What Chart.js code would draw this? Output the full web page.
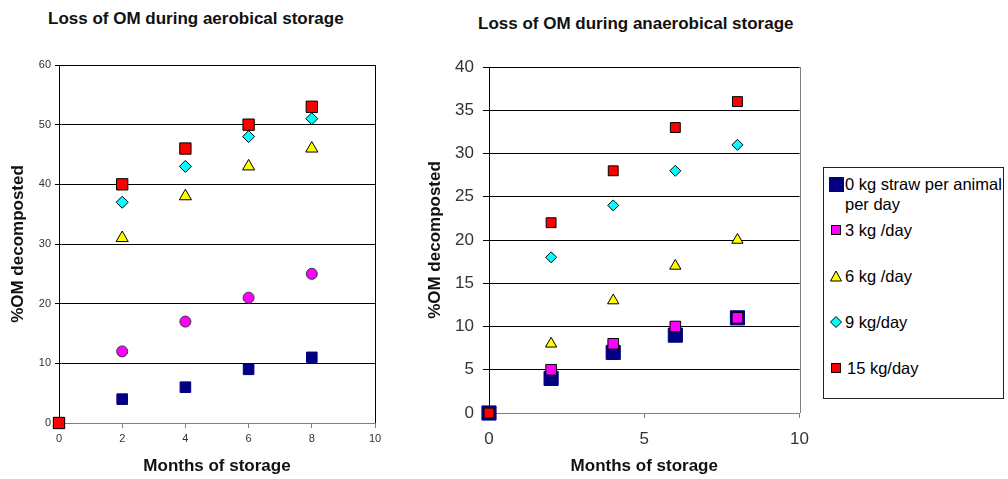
<!DOCTYPE html>
<html>
<head>
<meta charset="utf-8">
<script src="https://cdn.jsdelivr.net/npm/chart.js@4/dist/chart.umd.min.js"></script>
<style>
  html, body { margin:0; padding:0; background:#fff; }
  body { width:1008px; height:479px; position:relative; overflow:hidden; font-family:"Liberation Sans", Arial, sans-serif; }
  .title { position:absolute; font-weight:bold; font-size:17px; color:#111; white-space:nowrap; }
  .wrap { position:absolute; top:0; height:479px; width:400px; }
  #legend { position:absolute; left:823px; top:167px; width:179px; height:230px; border:1px solid #222; font-size:16.5px; color:#000; }
  .item { position:absolute; left:0; white-space:nowrap; line-height:20px; }
  .item svg { position:absolute; }
  .item span { position:absolute; left:21px; }
</style>
</head>
<body>
<div class="title" style="left:48px; top:9px;">Loss of OM during aerobical storage</div>
<div class="title" style="left:478px; top:14px;">Loss of OM during anaerobical storage</div>
<div class="wrap" style="left:0"><canvas id="aerobic"></canvas></div>
<div class="wrap" style="left:420px"><canvas id="anaerobic"></canvas></div>
<div id="legend"></div>
<script>
// months of storage
const months = [0, 2, 4, 6, 8];

// aerobic storage, % OM decomposted
const aer0  = [0, 4, 6, 9, 11];
const aer3  = [null, 12, 17, 21, 25];
const aer6  = [null, 31, 38, 43, 46];
const aer9  = [null, 37, 43, 48, 51];
const aer15 = [0, 40, 46, 50, 53];

// anaerobic storage
const ana0  = [0, 4, 7, 9, 11];
const ana3  = [null, 5, 8, 10, 11];
const ana6  = [null, 8, 13, 17, 20];
const ana9  = [null, 18, 24, 28, 31];
const ana15 = [0, 22, 28, 33, 36];

const seriesNames = ['0 kg straw per animal per day', '3 kg /day', '6 kg /day', '9 kg/day', '15 kg/day'];

const FONT = '"Liberation Sans", Arial, sans-serif';

function pts(ys){ return months.map((m,i) => ({x:m, y:ys[i]})).filter(p => p.y !== null); }

function ds(label, ys, style, fill, r, order, border){
  return {
    label, data: pts(ys), pointStyle: style, pointRadius: r, pointHoverRadius: r,
    backgroundColor: fill, borderColor: border || '#000', pointBorderWidth: 1, borderWidth: 1,
    showLine: false, order, clip: false
  };
}

// right edge of the plot area
const frame = {
  id: 'frame',
  beforeDatasetsDraw(chart, args, opts){
    const a = chart.chartArea, c = chart.ctx;
    c.save();
    c.strokeStyle = opts.color || '#000';
    c.lineWidth = 1;
    c.beginPath();
    c.moveTo(Math.round(a.right)+0.5, a.top);
    c.lineTo(Math.round(a.right)+0.5, a.bottom);
    c.stroke();
    c.restore();
  }
};

function makeChart(id, datasets, o){
  return new Chart(document.getElementById(id), {
    type: 'scatter',
    data: { datasets },
    plugins: [frame],
    options: {
      responsive: true, maintainAspectRatio: false, animation: false,
      layout: { padding: { top: o.top, right: o.right, left: 0, bottom: 0 } },
      plugins: { legend: { display:false }, tooltip: { enabled:false }, frame: { color: o.frameColor } },
      scales: {
        x: {
          type: 'linear', min: 0, max: 10,
          ticks: { stepSize: o.xStep, color: '#333', padding: o.xPad, font: { family: FONT, size: o.tickSize } },
          grid: { drawOnChartArea: false, drawTicks: true, tickLength: 5, color: '#808080' },
          border: { color: '#808080' },
          title: { display: true, text: 'Months of storage', color: '#111', padding: { top: 0, bottom: 2 },
                   font: { family: FONT, size: 17, weight: 'bold' } },
          afterFit: s => { s.height = o.xHeight; }
        },
        y: {
          min: 0, max: o.yMax,
          ticks: { stepSize: o.yStep, color: '#333', padding: o.yPad, font: { family: FONT, size: o.tickSize } },
          grid: { color: c => c.tick && c.tick.value === 0 ? '#808080' : '#000', tickLength: o.yTick, lineWidth: 1 },
          border: { color: '#000' },
          title: { display: true, text: '%OM decomposted', color: '#111', padding: { top: o.yTitlePad, bottom: 0 },
                   font: { family: FONT, size: 17, weight: 'bold' } },
          afterFit: s => { s.width = o.yWidth; }
        }
      }
    }
  });
}

makeChart('aerobic', [
  ds(seriesNames[0], aer0, 'rect', '#000080', 7.5, 5, '#000080'),
  ds(seriesNames[1], aer3, 'circle', '#FF00FF', 5.5, 4, '#333'),
  ds(seriesNames[2], aer6, 'triangle', '#FFFF00', 7, 3),
  ds(seriesNames[3], aer9, 'rectRot', '#00FFFF', 6, 2),
  ds(seriesNames[4], aer15, 'rect', '#FF0000', 8, 1)
], { top: 65, right: 25, xHeight: 56, yWidth: 59, yMax: 60, yStep: 10, xStep: 2,
     tickSize: 11, xPad: 4, yPad: 4, yTick: 4, yTitlePad: 8, frameColor: '#000' });

makeChart('anaerobic', [
  ds(seriesNames[0], ana0, 'rect', '#000080', 10, 5, '#000080'),
  ds(seriesNames[1], ana3, 'rect', '#FF00FF', 7.5, 4),
  ds(seriesNames[2], ana6, 'triangle', '#FFFF00', 6.5, 3),
  ds(seriesNames[3], ana9, 'rectRot', '#00FFFF', 5.5, 2),
  ds(seriesNames[4], ana15, 'rect', '#FF0000', 7, 1)
], { top: 67, right: 20, xHeight: 66, yWidth: 69, yMax: 40, yStep: 5, xStep: 5,
     tickSize: 17, xPad: 11, yPad: 9, yTick: 6, yTitlePad: 5, frameColor: '#808080' });

// legend
const legendMarks = [
  '<rect x="0.5" y="0.5" width="14" height="14" fill="#000080" stroke="#000080"/>',
  '<rect x="2.5" y="2.5" width="9" height="9" fill="#FF00FF" stroke="#000"/>',
  '<polygon points="7,2 12.5,12 1.5,12" fill="#FFFF00" stroke="#000"/>',
  '<polygon points="7,1.5 12.5,7 7,12.5 1.5,7" fill="#00FFFF" stroke="#000"/>',
  '<rect x="2.5" y="2.5" width="9" height="9" fill="#FF0000" stroke="#000"/>'
];
const legendTop = [6, 52, 98, 144, 190];
const legend = document.getElementById('legend');
seriesNames.forEach((name, i) => {
  const it = document.createElement('div');
  it.className = 'item';
  it.style.top = legendTop[i] + 'px';
  const txt = i === 0 ? '0 kg straw per animal<br>per day' : name;
  it.innerHTML = '<svg width="15" height="15" style="left:5px; top:3px">' + legendMarks[i] + '</svg>' +
                 '<span style="left:' + (i === 4 ? 23 : 21) + 'px">' + txt + '</span>';
  legend.appendChild(it);
});
</script>
</body>
</html>
